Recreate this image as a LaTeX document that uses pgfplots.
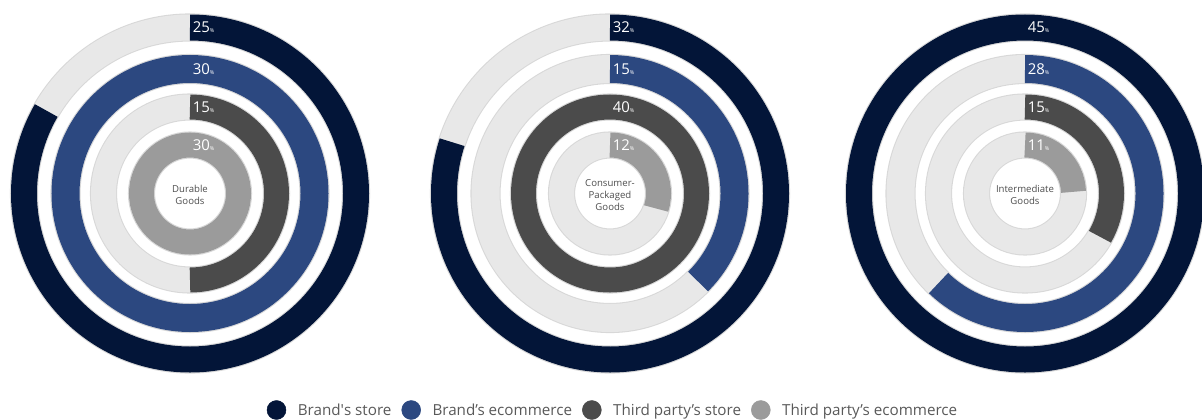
\documentclass[border=0pt]{standalone}
\usepackage{pgfplots}
\pgfplotsset{compat=1.18}
\usepackage{pgfplotstable}
\usepackage{fontspec}
\setmainfont{Open Sans}

\definecolor{c0}{HTML}{031538}
\definecolor{c1}{HTML}{2C4880}
\definecolor{c2}{HTML}{4B4B4B}
\definecolor{c3}{HTML}{9B9B9B}
\definecolor{track}{HTML}{E8E8E8}
\definecolor{trackborder}{HTML}{D8D8D8}
\definecolor{txt}{HTML}{595959}
\definecolor{ctxt}{HTML}{4D4D4D}

% values per group: Brand's store, Brand's ecommerce, Third party's store, Third party's ecommerce
\pgfplotstableread{
channel value
BrandStore 25
BrandEcom 30
ThirdStore 15
ThirdEcom 30
}\durable
\pgfplotstableread{
channel value
BrandStore 32
BrandEcom 15
ThirdStore 40
ThirdEcom 12
}\consumer
\pgfplotstableread{
channel value
BrandStore 45
BrandEcom 28
ThirdStore 15
ThirdEcom 11
}\intermediate

\newcommand\pctlabel[1]{{\fontsize{11.2}{12}\selectfont #1}{\fontsize{4}{4}\selectfont\%}}

\newcommand\donut[3]{%
  \def\vmax{0}%
  \pgfplotsforeachungrouped \ii in {0,1,2,3}{%
    \pgfplotstablegetelem{\ii}{value}\of{#1}%
    \pgfmathsetmacro\vmax{max(\vmax,\pgfplotsretval)}%
  }%
  \pgfplotsforeachungrouped \ii in {0,1,2,3}{%
    \pgfplotstablegetelem{\ii}{value}\of{#1}%
    \let\val\pgfplotsretval
    \pgfmathsetmacro\ang{360*\val/\vmax}%
    \pgfmathtruncatemacro\isfull{\ang>359.9 ? 1 : 0}%
    \pgfmathsetmacro\rr{{166,124.5,86.5,48.5}[\ii]}%
    \pgfmathsetmacro\ww{{26,28,25,25}[\ii]}%
    \pgfmathsetlengthmacro\rad{\rr*0.75pt}%
    \pgfmathsetlengthmacro\lw{\ww*0.75pt}%
    \pgfmathsetlengthmacro\blw{\ww*0.75pt+1.6pt}%
    \pgfmathsetmacro\ystart{#3+\rr}%
    \pgfmathsetmacro\xlab{#2+2.5}%
    \pgfmathparse{{"c0","c1","c2","c3"}[\ii]}\let\col\pgfmathresult
    \ifnum\isfull=1
      \edef\arcpart{\noexpand\draw[line width=\lw, \col] (axis cs:#2,#3) circle[radius=\rad];}%
    \else
      \edef\arcpart{\noexpand\draw[line width=\lw, \col] (axis cs:#2,\ystart) arc[start angle=90, delta angle=-\ang, radius=\rad];}%
    \fi
    \edef\tmp{%
      \noexpand\draw[line width=\blw, trackborder] (axis cs:#2,#3) circle[radius=\rad];
      \noexpand\draw[line width=\lw, track] (axis cs:#2,#3) circle[radius=\rad];
      \unexpanded\expandafter{\arcpart}
      \noexpand\node[anchor=west, inner sep=0pt, text=white] at (axis cs:\xlab,\ystart) {\noexpand\pctlabel{\val}};
    }%
    \tmp
  }%
}

\begin{document}
\begin{tikzpicture}
\useasboundingbox (0,0) rectangle (901.5pt,314.25pt);
\begin{axis}[
  at={(0,0)}, anchor=south west,
  x=0.75pt, y=0.75pt,
  xmin=0, xmax=1202, ymin=0, ymax=419,
  hide axis, clip=false,
  legend columns=4,
  legend style={draw=none, fill=none, at={(axis cs:612,9)}, anchor=center,
    font=\fontsize{11.4}{13}\selectfont, text=txt,
    cells={anchor=base west}, nodes={inner sep=0pt},
    /tikz/every odd column/.append style={column sep=8.7pt},
    /tikz/every even column/.append style={column sep=7.5pt}},
]
\addlegendimage{legend image code/.code={\fill[c0] (7.1pt,4pt) circle[radius=7.1pt];}}
\addlegendentry{Brand\textquotesingle s store}
\addlegendimage{legend image code/.code={\fill[c1] (7.1pt,4pt) circle[radius=7.1pt];}}
\addlegendentry{Brand’s ecommerce}
\addlegendimage{legend image code/.code={\fill[c2] (7.1pt,4pt) circle[radius=7.1pt];}}
\addlegendentry{Third party’s store}
\addlegendimage{legend image code/.code={\fill[c3] (7.1pt,4pt) circle[radius=7.1pt];}}
\addlegendentry{Third party’s ecommerce}

\donut{\durable}{190}{225.5}
\donut{\consumer}{610}{225.5}
\donut{\intermediate}{1025}{225.5}

\node[align=center, text=ctxt, font=\fontsize{7.2}{8.75}\selectfont] at (axis cs:190,224) {Durable\\Goods};
\node[align=center, text=ctxt, font=\fontsize{7.2}{8.75}\selectfont] at (axis cs:610,224) {Consumer-\\Packaged\\Goods};
\node[align=center, text=ctxt, font=\fontsize{7.2}{8.75}\selectfont] at (axis cs:1025,224) {Intermediate\\Goods};
\end{axis}
\end{tikzpicture}
\end{document}
